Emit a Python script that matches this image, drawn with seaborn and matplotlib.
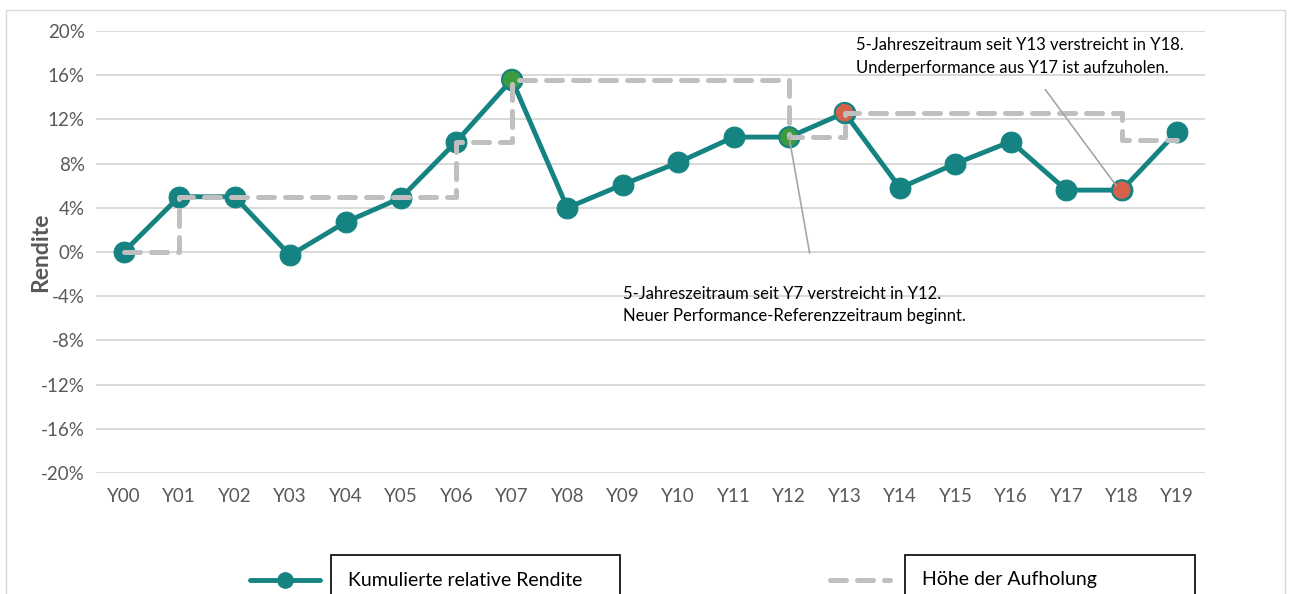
import numpy as np
import pandas as pd
import matplotlib
matplotlib.use("Agg")
import matplotlib.pyplot as plt
from matplotlib.patches import Rectangle
from matplotlib.lines import Line2D
import seaborn as sns

# data
years = [f"Y{i:02d}" for i in range(20)]
cum_return = [0.0, 5.0, 5.0, -0.3, 2.7, 4.9, 10.0, 15.6, 4.0, 6.1,
              8.1, 10.4, 10.4, 12.6, 5.8, 8.0, 10.0, 5.6, 5.6, 10.9]
catchup = [0.0, 5.0, 5.0, 5.0, 5.0, 5.0, 10.0, 15.6, 15.6, 15.6,
           15.6, 15.6, 10.4, 12.6, 12.6, 12.6, 12.6, 12.6, 10.1, 10.1]
green_idx = [7, 12]
red_idx = [13, 18]
y_ticks = [-20, -16, -12, -8, -4, 0, 4, 8, 12, 16, 20]

TEAL = "#148381"
GREY = "#bfbfbf"
GREEN = "#3d9b3f"
RED = "#d5614a"
TXT = "#595959"

sns.set_style("white")
plt.rcParams["font.family"] = ["Lato", "DejaVu Sans"]

df = pd.DataFrame({"x": np.arange(len(years)), "ret": cum_return, "catch": catchup})

fig = plt.figure(figsize=(12.93, 5.94), dpi=100)
ax = fig.add_axes([96 / 1293, 1 - 473 / 594, 1109 / 1293, 442 / 594])

sns.lineplot(data=df, x="x", y="ret", ax=ax, color=TEAL, linewidth=3.5,
             marker="o", markersize=15, markeredgecolor=TEAL, zorder=3)
hl = df.iloc[green_idx + red_idx].copy()
hl["c"] = ["g"] * len(green_idx) + ["r"] * len(red_idx)
sns.scatterplot(data=hl, x="x", y="ret", hue="c", palette={"g": GREEN, "r": RED},
                s=200, edgecolor=TEAL, linewidth=1.5, ax=ax, legend=False, zorder=4)
sns.lineplot(data=df, x="x", y="catch", ax=ax, color=GREY, linewidth=3.6,
             drawstyle="steps-post", dashes=False, zorder=5)
for l in ax.lines[1:]:
    l.set_dashes([3.2, 2.2])
    l.set_dash_capstyle("round")

ax.set_xlim(-0.5, 19.5)
ax.set_ylim(-20, 20)
ax.set_yticks(y_ticks)
ax.set_yticklabels([f"{t}%" for t in y_ticks])
ax.set_xticks(df["x"])
ax.set_xticklabels(years)
ax.tick_params(axis="both", length=0, labelsize=13.5, labelcolor=TXT, pad=8)
ax.tick_params(axis="x", pad=11)
ax.grid(axis="y", color="#d9d9d9", linewidth=1.4)
ax.set_axisbelow(True)
for s in ax.spines.values():
    s.set_visible(False)
ax.set_xlabel("")
ax.set_ylabel("Rendite", fontsize=16.5, fontweight="bold", color=TXT, labelpad=-7)

# annotations: connector lines and texts
ax.annotate("", xy=(12, cum_return[12]), xytext=(12.37, -0.1),
            arrowprops=dict(arrowstyle="-", color="#a6a6a6", lw=1.2,
                            shrinkA=0, shrinkB=0), zorder=6)
ax.annotate("", xy=(17.9, 6.0), xytext=(16.62, 14.7),
            arrowprops=dict(arrowstyle="-", color="#a6a6a6", lw=1.2,
                            shrinkA=0, shrinkB=0), zorder=6)
ax.text(9.0, -4.8, "5-Jahreszeitraum seit Y7 verstreicht in Y12.\nNeuer Performance-Referenzzeitraum beginnt.",
        fontsize=12, linespacing=1.5, va="center", ha="left", color="black")
ax.text(13.2, 17.7, "5-Jahreszeitraum seit Y13 verstreicht in Y18.\nUnderperformance aus Y17 ist aufzuholen.",
        fontsize=12, linespacing=1.5, va="center", ha="left", color="black")

# outer border
fig.patches.append(Rectangle((6 / 1293, -0.05), 1279 / 1293, 1 - 10 / 594 + 0.05,
                             transform=fig.transFigure, fill=False,
                             edgecolor="#d9d9d9", linewidth=1.0))

# legend boxes at the bottom
ly = 1 - 580 / 594
fig.add_artist(Line2D([250 / 1293, 320 / 1293], [ly, ly], color=TEAL,
                      linewidth=3.5, transform=fig.transFigure))
fig.add_artist(Line2D([285 / 1293], [ly], color=TEAL, marker="o",
                      markersize=11, transform=fig.transFigure))
fig.add_artist(Line2D([830 / 1293, 890 / 1293], [ly, ly], color=GREY,
                      linewidth=3.6, dashes=[3.2, 2.2], dash_capstyle="round",
                      transform=fig.transFigure))
for x0, x1, label in [(331, 620, "Kumulierte relative Rendite"),
                      (905, 1195, "Höhe der Aufholung")]:
    fig.patches.append(Rectangle((x0 / 1293, -0.05), (x1 - x0) / 1293, 0.05 + 1 - 555 / 594,
                                 transform=fig.transFigure, fill=False,
                                 edgecolor="black", linewidth=1.2))
    fig.text((x0 + 17) / 1293, ly, label, fontsize=14, va="center",
             ha="left", color="black")

fig.savefig("out.png", dpi=100)
